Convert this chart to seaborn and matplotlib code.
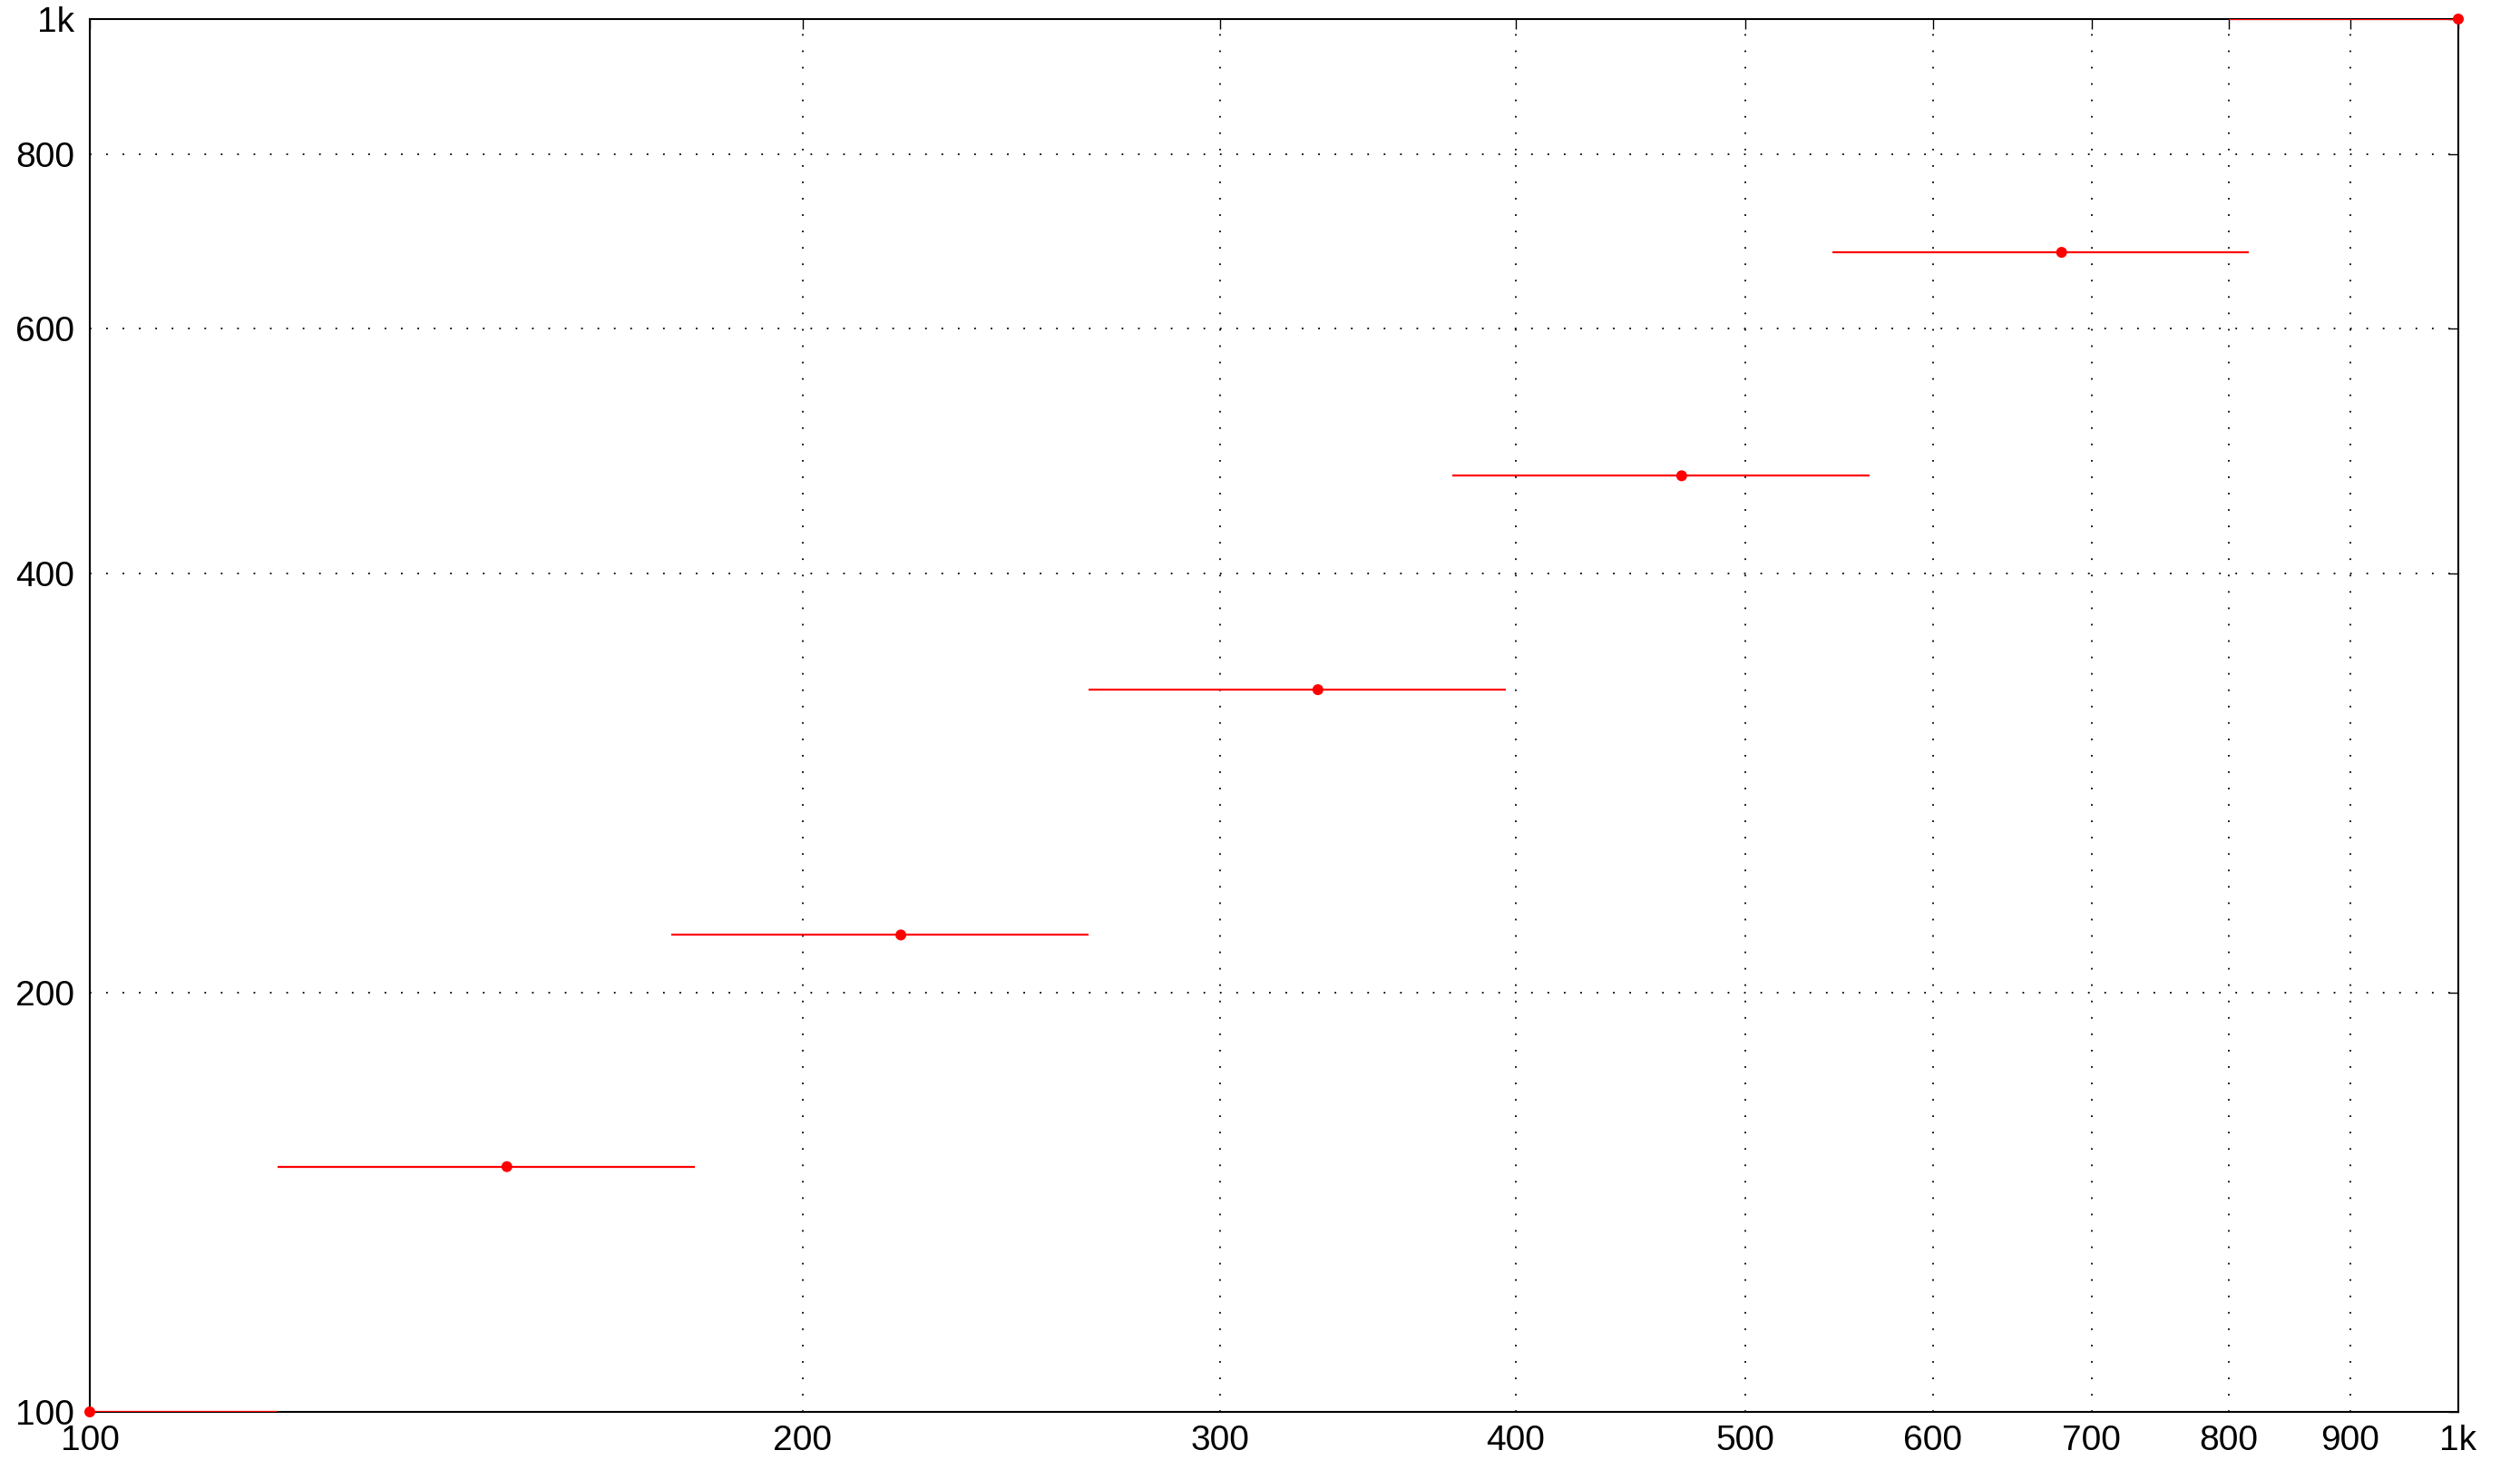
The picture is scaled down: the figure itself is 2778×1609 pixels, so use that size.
import matplotlib
matplotlib.use("Agg")
import matplotlib.pyplot as plt
import pandas as pd
import seaborn as sns
from matplotlib.ticker import FixedLocator, FixedFormatter, NullLocator

# valores
x_vals = [100, 150, 220, 330, 470, 680, 1000]
y_vals = [100, 150, 220, 330, 470, 680, 1000]
x_err = [20, 30, 44, 66, 94, 136, 200]

x_ticks = [100, 200, 300, 400, 500, 600, 700, 800, 900, 1000]
x_labels = ["100", "200", "300", "400", "500", "600", "700", "800", "900", "1k"]
y_ticks = [100, 200, 400, 600, 800, 1000]
y_labels = ["100", "200", "400", "600", "800", "1k"]

df = pd.DataFrame({"x": x_vals, "y": y_vals, "xerr": x_err})

sns.set_style("white")
plt.rcParams["font.family"] = ["Liberation Sans", "DejaVu Sans"]

fig, ax = plt.subplots(figsize=(27.78, 16.09), dpi=100)
fig.subplots_adjust(left=99 / 2778, right=2710 / 2778, top=1 - 21 / 1609, bottom=1 - 1556 / 1609)

ax.set_xscale("log")
ax.set_yscale("log")

ax.errorbar(df["x"], df["y"], xerr=df["xerr"], fmt="none", ecolor="red",
            elinewidth=1.6, capsize=0, zorder=3)
sns.scatterplot(data=df, x="x", y="y", color="red", s=75, edgecolor="none",
                ax=ax, zorder=4, clip_on=False, legend=False)

ax.set_xlim(100, 1000)
ax.set_ylim(100, 1000)

ax.xaxis.set_major_locator(FixedLocator(x_ticks))
ax.xaxis.set_major_formatter(FixedFormatter(x_labels))
ax.xaxis.set_minor_locator(NullLocator())
ax.yaxis.set_major_locator(FixedLocator(y_ticks))
ax.yaxis.set_major_formatter(FixedFormatter(y_labels))
ax.yaxis.set_minor_locator(NullLocator())

ax.tick_params(axis="both", which="major", direction="in", length=8, width=1,
               colors="black", labelsize=28, top=True, right=True)
ax.tick_params(axis="x", pad=10)
ax.tick_params(axis="y", pad=12)

ax.grid(True, which="major", color="black", linestyle=(0, (1, 9)), linewidth=1.3)
for s in ax.spines.values():
    s.set_color("black")
    s.set_linewidth(1.5)

ax.set_xlabel("")
ax.set_ylabel("")

plt.savefig("out.png", dpi=100)
plt.close()
